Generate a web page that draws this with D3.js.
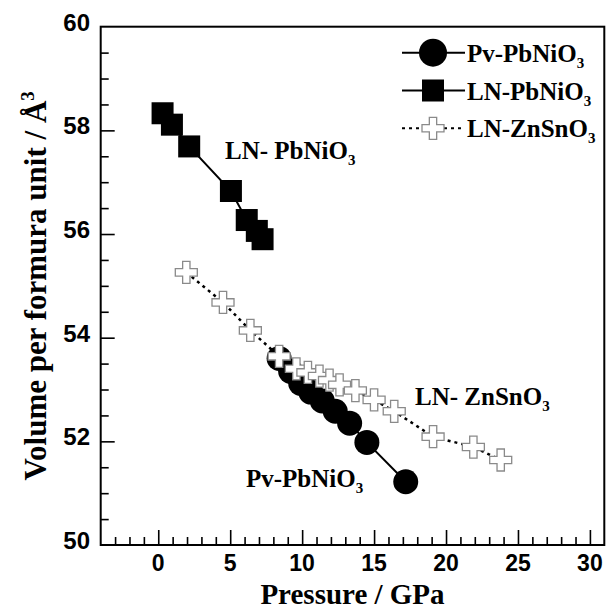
<!doctype html>
<html lang="en">
  <head>
    <meta charset="UTF-8" />
    <title>Volume vs Pressure</title>
    <style>
      body {
        margin: 0;
        background: #fff;
      }
      svg {
        display: block;
      }
      .serif {
        font-family: "Liberation Serif", "Times New Roman", serif;
        font-weight: bold;
      }
      .tick-label {
        font-family: "Liberation Sans", Arial, sans-serif;
        font-weight: bold;
        font-size: 23px;
      }
    </style>
  </head>
  <body>
    <svg id="chart" width="608" height="611"></svg>

    <script src="https://d3js.org/d3.v7.min.js"></script>
    <script>
      // data
      const pvPressure = [8.4, 9.2, 9.9, 10.6, 11.4, 12.3, 13.3, 14.5, 17.2];
      const pvVolume = [53.6, 53.35, 53.12, 52.95, 52.78, 52.58, 52.35, 51.98, 51.22];

      const lnPressure = [0.3, 0.95, 2.15, 5.05, 6.15, 6.85, 7.25];
      const lnVolume = [58.33, 58.11, 57.69, 56.83, 56.27, 56.06, 55.9];

      const znPressure = [1.95, 4.5, 6.4, 8.4, 9.6, 10.4, 11.2, 11.9, 12.6, 13.7, 15.0, 16.4, 19.1, 21.9, 23.8];
      const znVolume = [55.26, 54.68, 54.14, 53.64, 53.4, 53.33, 53.26, 53.18, 53.09, 52.98, 52.8, 52.58, 52.09, 51.89, 51.64];

      const xTicks = [0, 5, 10, 15, 20, 25, 30];
      const yTicks = [50, 52, 54, 56, 58, 60];

      const svg = d3.select("#chart");
      const mLeft = 100.7,
        mRight = 604.3,
        mTop = 26.7,
        mBottom = 545;

      const x = d3.scaleLinear().domain([-4, 31]).range([mLeft, mRight]);
      const y = d3.scaleLinear().domain([50, 60]).range([mBottom, mTop]);

      const zip = (a, b) => a.map((v, i) => [v, b[i]]);
      const pv = zip(pvPressure, pvVolume);
      const ln = zip(lnPressure, lnVolume);
      const zn = zip(znPressure, znVolume);

      const line = d3
        .line()
        .x((d) => x(d[0]))
        .y((d) => y(d[1]));

      // axes with inward ticks
      const xMinor = d3.range(-3, 31, 1).filter((v) => v % 5 !== 0);
      const yMinor = d3.range(50.5, 60, 0.5).filter((v) => v % 2 !== 0);

      const xAxis = svg.append("g").attr("transform", `translate(0,${mBottom})`);
      xAxis
        .call(d3.axisBottom(x).tickValues(xTicks).tickSize(-15).tickFormat(""))
        .call((g) => g.select(".domain").remove());
      xAxis
        .append("g")
        .call(d3.axisBottom(x).tickValues(xMinor).tickSize(-8).tickFormat(""))
        .call((g) => g.select(".domain").remove());
      xAxis.selectAll("line").attr("stroke", "#000").attr("stroke-width", 1.6);

      svg
        .append("g")
        .selectAll("text")
        .data(xTicks)
        .join("text")
        .attr("class", "tick-label")
        .attr("x", (d) => x(d))
        .attr("y", 571)
        .attr("text-anchor", "middle")
        .text((d) => d);

      const yAxis = svg.append("g").attr("transform", `translate(${mLeft},0)`);
      yAxis
        .call(d3.axisLeft(y).tickValues(yTicks.slice(1, -1)).tickSize(-14).tickFormat(""))
        .call((g) => g.select(".domain").remove());
      yAxis
        .append("g")
        .call(d3.axisLeft(y).tickValues(yMinor).tickSize(-8).tickFormat(""))
        .call((g) => g.select(".domain").remove());
      yAxis.selectAll("line").attr("stroke", "#000").attr("stroke-width", 1.6);

      svg
        .append("g")
        .selectAll("text")
        .data(yTicks)
        .join("text")
        .attr("class", "tick-label")
        .attr("x", 90)
        .attr("y", (d) => y(d) + 4)
        .attr("text-anchor", "end")
        .style("font-size", "24px")
        .text((d) => d);

      // frame
      svg
        .append("rect")
        .attr("x", mLeft)
        .attr("y", mTop)
        .attr("width", mRight - mLeft)
        .attr("height", mBottom - mTop)
        .attr("fill", "none")
        .attr("stroke", "#000")
        .attr("stroke-width", 2);

      // axis titles
      svg
        .append("text")
        .attr("class", "serif")
        .attr("x", (mLeft + mRight) / 2)
        .attr("y", 604)
        .attr("text-anchor", "middle")
        .attr("font-size", 29)
        .text("Pressure / GPa");

      const yTitle = svg
        .append("text")
        .attr("class", "serif")
        .attr("transform", `translate(46,${(mTop + mBottom) / 2}) rotate(-90)`)
        .attr("text-anchor", "middle")
        .attr("font-size", 31);
      yTitle.append("tspan").text("Volume per formura unit / Å");
      yTitle.append("tspan").attr("font-size", 19).attr("dy", -12).text("3");

      // series
      const cross = d3.symbol().type(d3.symbolCross).size(269);

      svg
        .append("path")
        .datum(ln)
        .attr("d", line)
        .attr("fill", "none")
        .attr("stroke", "#000")
        .attr("stroke-width", 2);
      svg
        .append("g")
        .selectAll("rect")
        .data(ln)
        .join("rect")
        .attr("x", (d) => x(d[0]) - 11)
        .attr("y", (d) => y(d[1]) - 11)
        .attr("width", 22)
        .attr("height", 22)
        .attr("fill", "#000");

      svg
        .append("path")
        .datum(pv)
        .attr("d", line)
        .attr("fill", "none")
        .attr("stroke", "#000")
        .attr("stroke-width", 2);
      svg
        .append("g")
        .selectAll("circle")
        .data(pv)
        .join("circle")
        .attr("cx", (d) => x(d[0]))
        .attr("cy", (d) => y(d[1]))
        .attr("r", 12.5)
        .attr("fill", "#000");

      svg
        .append("path")
        .datum(zn)
        .attr("d", line)
        .attr("fill", "none")
        .attr("stroke", "#000")
        .attr("stroke-width", 2.5)
        .attr("stroke-dasharray", "3,4");
      svg
        .append("g")
        .selectAll("path")
        .data(zn)
        .join("path")
        .attr("d", cross)
        .attr("transform", (d) => `translate(${x(d[0])},${y(d[1])})`)
        .attr("fill", "#fff")
        .attr("stroke", "#8a8a8a")
        .attr("stroke-width", 1.3);

      // labels with subscript
      function label(g, px, py, main, tail) {
        const t = g
          .append("text")
          .attr("class", "serif")
          .attr("x", px)
          .attr("y", py)
          .attr("font-size", 25);
        t.append("tspan").text(main);
        t.append("tspan").attr("font-size", 15).attr("dy", 6).text(tail);
        return t;
      }

      label(svg, 225, 159, "LN- PbNiO", "3");
      label(svg, 415, 405, "LN- ZnSnO", "3");
      label(svg, 246, 487, "Pv-PbNiO", "3");

      // legend
      const legendRows = [
        { name: "Pv-PbNiO", mark: "circle", dash: null },
        { name: "LN-PbNiO", mark: "square", dash: null },
        { name: "LN-ZnSnO", mark: "cross", dash: "3,4" },
      ];
      const legend = svg.append("g");
      legendRows.forEach((r, i) => {
        const cy = 52.7 + i * 37.8;
        const g = legend.append("g").attr("transform", `translate(0,${cy})`);
        g.append("line")
          .attr("x1", 402)
          .attr("x2", 465)
          .attr("stroke", "#000")
          .attr("stroke-width", 2)
          .attr("stroke-dasharray", r.dash);
        if (r.mark === "circle") {
          g.append("circle").attr("cx", 433).attr("r", 14).attr("fill", "#000");
        } else if (r.mark === "square") {
          g.append("rect").attr("x", 422).attr("y", -11).attr("width", 22).attr("height", 22).attr("fill", "#000");
        } else {
          g.append("path")
            .attr("d", cross)
            .attr("transform", "translate(433,0)")
            .attr("fill", "#fff")
            .attr("stroke", "#8a8a8a")
            .attr("stroke-width", 1.3);
        }
        label(g, 467, 9, r.name, "3");
      });
    </script>
  </body>
</html>
